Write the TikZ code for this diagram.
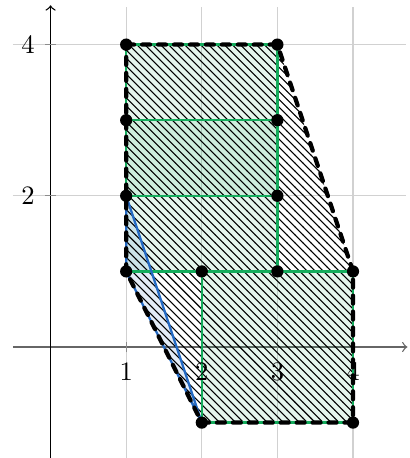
\documentclass[tikz,border=0pt]{standalone}
\usetikzlibrary{patterns}
\definecolor{grn}{RGB}{20,172,92}
\definecolor{blu}{RGB}{35,105,195}
\tikzset{
  gridline/.style={draw=black!18, line width=0.5pt},
  tickmark/.style={draw=black!45, line width=0.4pt},
  hatch/.style={pattern=north west lines, pattern color=black},
  greenedge/.style={draw=grn, line width=0.85pt},
  blueedge/.style={draw=blu, line width=0.85pt, line join=round},
  outline/.style={draw=black, ultra thick, dashed, line cap=round},
  dot/.style={fill=black},
  ticklabel/.style={inner sep=0pt}
}
\begin{document}
\begin{tikzpicture}[x=1cm,y=1cm]
\useasboundingbox (-0.669,-1.468) rectangle (4.748,4.59);
% grid
\foreach \x in {1,2,3,4} \draw[gridline] (\x,-1.47) -- (\x,4.5);
\foreach \y in {2,4} \draw[gridline] (-0.5,\y) -- (4.7,\y);
% axes
\draw[->, black!60, line width=0.5pt] (-0.5,0) -- (4.72,0);
\draw[->, black, line width=0.5pt] (0,-1.47) -- (0,4.52);
\foreach \x in {1,2,3,4} \draw[tickmark] (\x,0) ++(0,-2pt) -- ++(0,4pt);
\foreach \y in {2,4} \draw[tickmark] (0,\y) ++(-2pt,0) -- ++(4pt,0);
% points
\coordinate (P14) at (1,4);
\coordinate (P34) at (3,4);
\coordinate (P13) at (1,3);
\coordinate (P33) at (3,3);
\coordinate (P12) at (1,2);
\coordinate (P32) at (3,2);
\coordinate (P11) at (1,1);
\coordinate (P21) at (2,1);
\coordinate (P31) at (3,1);
\coordinate (P41) at (4,1);
\coordinate (P2m) at (2,-1);
\coordinate (P4m) at (4,-1);
% fills
\fill[grn, opacity=0.11] (P12) rectangle (P34);
\fill[grn, opacity=0.11] (P11) rectangle (P33);
\fill[grn, opacity=0.11] (P2m) rectangle (P41);
\fill[blu, opacity=0.13] (P12) -- (P11) -- (P2m) -- cycle;
% hatching
\fill[hatch] (P14) -- (P34) -- (P41) -- (P4m) -- (P2m) -- (P11) -- cycle;
% green edges
\draw[greenedge] (P12) rectangle (P34);
\draw[greenedge] (P11) rectangle (P33);
\draw[greenedge] (P2m) rectangle (P41);
% blue triangle
\draw[blueedge] (P12) -- (P11) -- (P2m) -- cycle;
% dashed outline
\draw[outline] (P14) -- (P34) -- (P41) -- (P4m) -- (P2m) -- (P11) -- cycle;
% dots
\foreach \p in {P14,P34,P13,P33,P12,P32,P11,P21,P31,P41,P2m,P4m}
  \fill[dot] (\p) circle (2.3pt);
% tick labels
\foreach \x in {1,2,3,4} \node[ticklabel, anchor=north] at ([yshift=-6pt]\x,0) {$\x$};
\foreach \y in {2,4} \node[ticklabel, anchor=east] at ([xshift=-5.8pt]0,\y) {$\y$};
\end{tikzpicture}
\end{document}
